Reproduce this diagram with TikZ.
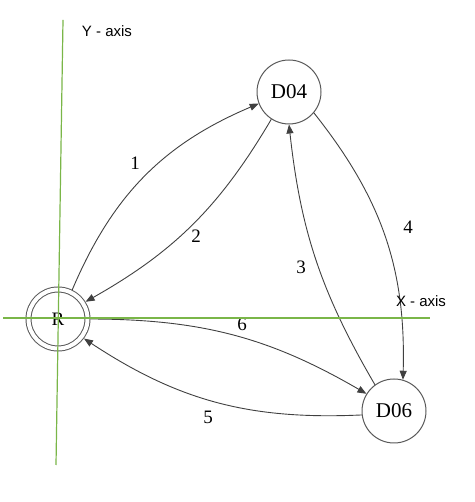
\documentclass[tikz,border=0pt]{standalone}
\usepackage{fontspec}
\setmainfont{Liberation Serif}
\newfontfamily\axisfont{Liberation Sans}
\usetikzlibrary{arrows.meta}
\definecolor{axisgreen}{RGB}{122,182,72}
\definecolor{edgegray}{RGB}{64,64,64}

\begin{document}
\begin{tikzpicture}
    [x=1pt,y=1pt,
    state/.style={circle,draw=black!65,line width=1pt,minimum size=64pt,inner sep=0pt,font=\fontsize{21}{24}\selectfont},
    accept/.style={circle,draw=black!65,line width=1pt,double,double distance=4pt,minimum size=59pt,outer sep=3pt,inner sep=0pt,font=\fontsize{19}{22}\selectfont},
    edge/.style={draw=edgegray,line width=0.9pt,-{Triangle[length=9pt,width=7pt]}},
    axis/.style={draw=axisgreen,line width=1.2pt},
    lbl/.style={font=\fontsize{19}{22}\selectfont},
    axislbl/.style={font=\axisfont\fontsize{15}{18}\selectfont}]

    \useasboundingbox (0,0) rectangle (474,502);

    \node[accept] (R) at (58,183) {R};
    \node[state] (D04) at (289,410) {D04};
    \node[state] (D06) at (394,91) {D06};

    \draw[edge] (R.64) to[bend left=22] (D04.201);
    \draw[edge] (D04.237) to[bend left=15] (R.32);
    \draw[edge] (D06.126) to[bend left=12] (D04.270);
    \draw[edge] (D04.-40) to[bend left=20] (D06.74);
    \draw[edge] (D06.187) to[bend left=18] (R.-37);
    \draw[edge] (R.0) to[bend left=15] (D06.148);

    \node[lbl] (l1) at (135,339) {1};
    \node[lbl] (l2) at (196,266) {2};
    \node[lbl] (l3) at (301,235) {3};
    \node[lbl] (l4) at (408,275) {4};
    \node[lbl] (l5) at (208,85)  {5};
    \node[lbl] (l6) at (242,178) {6};

    % axes
    \coordinate (ytop) at (63,482);
    \coordinate (ybot) at (56,37);
    \coordinate (xleft) at (3,184);
    \coordinate (xright) at (430,184);
    \draw[axis] (ybot) -- (ytop);
    \draw[axis] (xleft) -- (xright);
    \node[axislbl] (ylbl) at (107,471) {Y - axis};
    \node[axislbl] (xlbl) at (421,201) {X - axis};
\end{tikzpicture}
\end{document}
